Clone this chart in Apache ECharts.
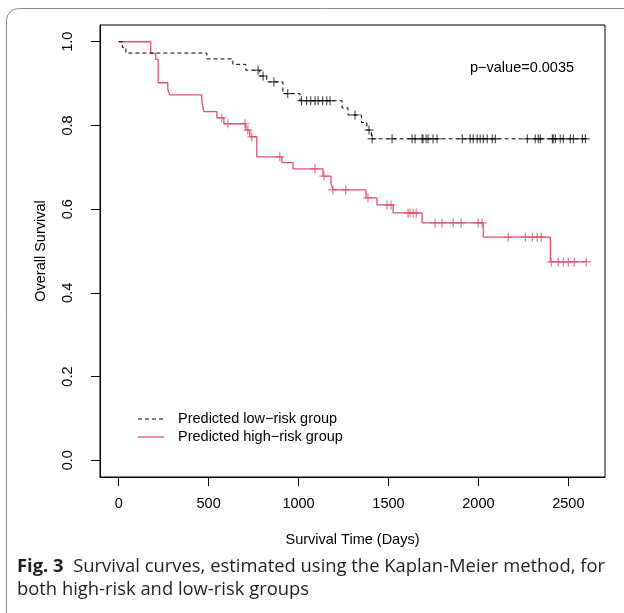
<!DOCTYPE html>
<html>
<head>
<meta charset="utf-8">
<script src="https://cdn.jsdelivr.net/npm/echarts@6/dist/echarts.min.js"></script>
<style>
html,body{margin:0;padding:0;background:#fff;}
#chart{width:624px;height:613px;}
</style>
</head>
<body>
<div id="chart"></div>
<script>
// Kaplan-Meier steps: [time (days), survival after the step]
const lowRiskSteps = [
  [0, 1.0], [20, 0.986], [40, 0.973], [490, 0.959], [635, 0.946], [707, 0.932],
  [785, 0.918], [823, 0.904], [913, 0.876], [1008, 0.859], [1242, 0.842],
  [1275, 0.825], [1350, 0.807], [1380, 0.789], [1405, 0.768], [2595, 0.768]
];
const lowRiskCensored = [
  [775, 0.932], [803, 0.918], [863, 0.904], [940, 0.876],
  [1017, 0.859], [1045, 0.859], [1068, 0.859], [1092, 0.859], [1109, 0.859],
  [1134, 0.859], [1157, 0.859], [1175, 0.859],
  [1314, 0.825], [1392, 0.789], [1409, 0.768], [1520, 0.768],
  [1631, 0.768], [1648, 0.768], [1687, 0.768], [1692, 0.768], [1709, 0.768],
  [1720, 0.768], [1748, 0.768], [1770, 0.768],
  [1910, 0.768], [1954, 0.768], [1971, 0.768], [1993, 0.768], [2010, 0.768],
  [2027, 0.768], [2049, 0.768], [2077, 0.768], [2094, 0.768],
  [2272, 0.768], [2316, 0.768], [2333, 0.768], [2344, 0.768], [2411, 0.768],
  [2416, 0.768], [2428, 0.768], [2455, 0.768], [2472, 0.768], [2511, 0.768],
  [2528, 0.768], [2578, 0.768], [2595, 0.768]
];
const highRiskSteps = [
  [0, 1.0], [178, 0.972], [206, 0.958], [219, 0.902], [273, 0.886], [284, 0.873],
  [462, 0.859], [473, 0.833], [546, 0.818], [585, 0.804], [707, 0.789],
  [729, 0.773], [768, 0.725], [908, 0.711], [969, 0.696], [1136, 0.679],
  [1180, 0.663], [1191, 0.646], [1375, 0.627], [1436, 0.610], [1526, 0.591],
  [1687, 0.567], [2027, 0.533], [2400, 0.474], [2600, 0.474]
];
const highRiskCensored = [
  [573, 0.818], [607, 0.804], [702, 0.804], [718, 0.789], [740, 0.773],
  [896, 0.725], [1091, 0.696], [1141, 0.679], [1191, 0.646], [1262, 0.646],
  [1386, 0.627], [1492, 0.610], [1514, 0.610],
  [1609, 0.591], [1620, 0.591], [1637, 0.591], [1654, 0.591],
  [1759, 0.567], [1798, 0.567], [1860, 0.567], [1904, 0.567], [1999, 0.567], [2021, 0.567],
  [2166, 0.533], [2261, 0.533], [2300, 0.533], [2327, 0.533], [2350, 0.533],
  [2405, 0.474], [2444, 0.474], [2472, 0.474], [2500, 0.474], [2533, 0.474], [2600, 0.474]
];
const xTicks = [0, 500, 1000, 1500, 2000, 2500];
const yTicks = [0, 0.2, 0.4, 0.6, 0.8, 1.0];
const seriesNames = ['Predicted low\u2212risk group', 'Predicted high\u2212risk group'];
const pValueText = 'p\u2212value=0.0035';
const xTitle = 'Survival Time (Days)';
const yTitle = 'Overall Survival';

const RED = '#DF536B';
const FONT = '"Liberation Sans", Arial, sans-serif';
const FS = 14.5;
const CAP_FONT = '18.4px "Open Sans", sans-serif';
const plus = 'path://M0,5L10,5M5,0L5,10';

const chart = echarts.init(document.getElementById('chart'), null, {renderer: 'canvas'});
chart.setOption({
  animation: false,
  backgroundColor: '#fff',
  grid: {left: 100, top: 25, width: 505, height: 452, show: true, borderColor: '#000', borderWidth: 1, backgroundColor: 'transparent', containLabel: false, outerBoundsMode: 'none'},
  xAxis: {
    type: 'value', min: -104, max: 2704,
    name: xTitle, nameLocation: 'middle', nameGap: 55,
    nameTextStyle: {fontFamily: FONT, fontSize: FS, color: '#000'},
    axisLine: {show: true, onZero: false, lineStyle: {color: '#000', width: 1}},
    axisTick: {show: true, customValues: xTicks, length: 9, lineStyle: {color: '#000'}},
    axisLabel: {show: true, customValues: xTicks, margin: 19, fontFamily: FONT, fontSize: FS, color: '#000', formatter: v => String(v)},
    splitLine: {show: false}
  },
  yAxis: {
    type: 'value', min: -0.04, max: 1.04,
    name: yTitle, nameLocation: 'middle', nameGap: 52, nameRotate: 90,
    nameTextStyle: {fontFamily: FONT, fontSize: FS, color: '#000'},
    axisLine: {show: true, onZero: false, lineStyle: {color: '#000', width: 1}},
    axisTick: {show: true, customValues: yTicks, length: 9, lineStyle: {color: '#000'}},
    axisLabel: {show: true, customValues: yTicks, rotate: 90, align: 'center', verticalAlign: 'bottom', margin: 25, fontFamily: FONT, fontSize: FS, color: '#000', formatter: v => v.toFixed(1)},
    splitLine: {show: false}
  },
  series: [
    {
      name: seriesNames[1], type: 'line', step: 'end', data: highRiskSteps,
      symbol: 'none', lineStyle: {color: RED, width: 1.3}, z: 2
    },
    {
      name: seriesNames[1] + ' censored', type: 'scatter', data: highRiskCensored,
      symbol: plus, symbolSize: 9,
      itemStyle: {color: 'none', borderColor: RED, borderWidth: 1.2}, z: 3
    },
    {
      name: seriesNames[0], type: 'line', step: 'end', data: lowRiskSteps,
      symbol: 'none', lineStyle: {color: '#000', width: 1, type: [4, 3]}, z: 4
    },
    {
      name: seriesNames[0] + ' censored', type: 'scatter', data: lowRiskCensored,
      symbol: plus, symbolSize: 9,
      itemStyle: {color: 'none', borderColor: '#000', borderWidth: 1}, z: 5
    }
  ],
  graphic: [
    {type: 'rect', shape: {x: 6.5, y: 8.5, width: 700, height: 700, r: 12}, style: {fill: 'none', stroke: '#888', lineWidth: 1}, z: -1, silent: true},
    {type: 'text', x: 522, y: 68, style: {text: pValueText, font: FS + 'px ' + FONT, fill: '#000', textAlign: 'center', textVerticalAlign: 'middle'}},
    {type: 'line', shape: {x1: 138, y1: 419, x2: 164, y2: 419}, style: {stroke: '#000', lineWidth: 1, lineDash: [4, 3]}},
    {type: 'text', x: 178, y: 419, style: {text: seriesNames[0], font: FS + 'px ' + FONT, fill: '#000', textVerticalAlign: 'middle'}},
    {type: 'line', shape: {x1: 138, y1: 437, x2: 164, y2: 437}, style: {stroke: RED, lineWidth: 1.3}},
    {type: 'text', x: 178, y: 437, style: {text: seriesNames[1], font: FS + 'px ' + FONT, fill: '#000', textVerticalAlign: 'middle'}},
    {type: 'text', x: 17, y: 567, style: {
      text: '{b|Fig. 3}  Survival curves, estimated using the Kaplan-Meier method, for',
      font: CAP_FONT, fill: '#231F20', textVerticalAlign: 'middle',
      rich: {b: {fontWeight: 'bold', fontSize: 18.4, fontFamily: '"Open Sans", sans-serif', fill: '#231F20'}}
    }},
    {type: 'text', x: 17, y: 590, style: {
      text: 'both high-risk and low-risk groups',
      font: CAP_FONT, fill: '#231F20', textVerticalAlign: 'middle'
    }}
  ]
});
</script>
</body>
</html>
